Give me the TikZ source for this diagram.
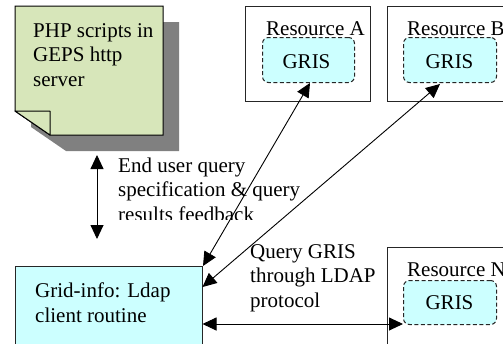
\documentclass[tikz,border=0pt]{standalone}
\usepackage{fontspec}
\setmainfont{Liberation Serif}
\usetikzlibrary{arrows.meta}
\definecolor{cyanfill}{HTML}{CCFFFF}
\definecolor{notegreen}{HTML}{D7E6BA}
\definecolor{shadowgray}{HTML}{808080}
\begin{document}
\begin{tikzpicture}[x=1pt,y=-1pt,
  txt/.style={font=\fontsize{21}{24.5}\selectfont, inner sep=0pt, anchor=base west},
  ctxt/.style={font=\fontsize{21}{24.5}\selectfont, inner sep=0pt, anchor=base},
  resbox/.style={draw=black!85, line width=1pt, fill=white, inner sep=0pt, anchor=north west},
  grisbox/.style={draw=black!85, line width=1pt, dashed, dash pattern=on 4pt off 2.5pt, rounded corners=6pt, fill=cyanfill, inner sep=0pt, anchor=north west},
  biarrow/.style={line width=0.9pt, {Triangle[length=14pt,width=13pt]}-{Triangle[length=14pt,width=13pt]}}
]
\clip (0,0) rectangle (503,343);
\fill[white] (0,0) rectangle (503,343);

% note with shadow
\fill[shadowgray] (31,22) -- (179,22) -- (179,151) -- (66,151) -- (31,127) -- cycle;
\draw[fill=notegreen, line width=1pt] (15,6) -- (163,6) -- (163,135) -- (50,135) -- (15,111) -- cycle;
\draw[fill=notegreen, line width=1pt, line join=round] (15,111) -- (50,111) -- (50,135) -- cycle;
\node[txt] (php1) at (33,37) {PHP scripts in};
\node[txt] (php2) at (33,61.5) {GEPS http};
\node[txt] (php3) at (33,86) {server};

% resources
\node[resbox, minimum width=125pt, minimum height=95pt] (resA) at (245,6) {};
\node[resbox, minimum width=140pt, minimum height=95pt] (resB) at (387,6) {};
\node[resbox, minimum width=140pt, minimum height=120pt] (resN) at (387,247) {};
\node[txt] (resAt) at (266,35) {Resource A};
\node[txt] (resBt) at (407,35) {Resource B};
\node[txt] (resNt) at (407,276) {Resource N};
\node[grisbox, minimum width=92pt, minimum height=45pt] (grisA) at (262,37) {};
\node[grisbox, minimum width=93pt, minimum height=45pt] (grisB) at (403,37) {};
\node[grisbox, minimum width=93pt, minimum height=44pt] (grisN) at (403,280) {};
\node[ctxt] (grisAt) at (306.5,68) {GRIS};
\node[ctxt] (grisBt) at (449.5,68) {GRIS};
\node[ctxt] (grisNt) at (449.5,309) {GRIS};

% grid-info box
\node[resbox, fill=cyanfill, minimum width=187pt, minimum height=100pt] (grid) at (15,266) {};
\node[txt] (grid1) at (35,297) {Grid-info: Ldap};
\node[txt] (grid2) at (35,322) {client routine};

% labels
\begin{scope}
\clip (110,140) rectangle (330,219.5);
\node[txt] (eu1) at (118,172) {End user query};
\node[txt] (eu2) at (118,196.5) {specification \& query};
\node[txt] (eu3) at (118,221) {results feedback};
\end{scope}
\node[txt] (q1) at (250,258) {Query GRIS};
\node[txt] (q2) at (250,282.5) {through LDAP};
\node[txt] (q3) at (250,307) {protocol};

% connectors
\coordinate (vt) at (97,155);
\coordinate (vb) at (97,239);
\coordinate (aA) at (310,83);
\coordinate (aB) at (440,84);
\coordinate (gB) at (202.5,287);
\coordinate (gN) at (202.5,324);
\coordinate (nN) at (403,324);
\draw[biarrow] (vt) -- (vb);
\draw[biarrow] (grid.north east) -- (aA);
\draw[biarrow] (gB) -- (aB);
\draw[biarrow] (gN) -- (nN);
\end{tikzpicture}
\end{document}
